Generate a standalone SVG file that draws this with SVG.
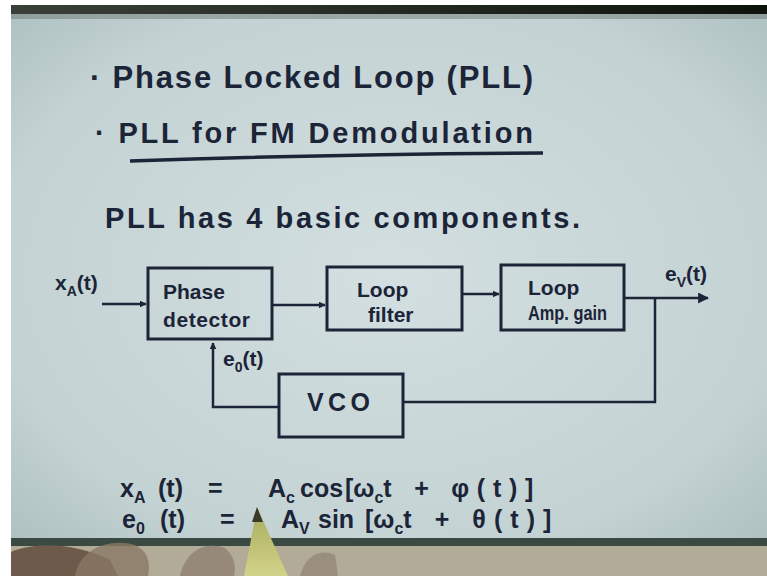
<svg xmlns="http://www.w3.org/2000/svg" width="767" height="576" viewBox="0 0 767 576">
<defs>
<radialGradient id="paper" cx="0.5" cy="0.5" r="0.75">
<stop offset="0" stop-color="#d3dfe0"/>
<stop offset="0.7" stop-color="#c3d2d3"/>
<stop offset="1" stop-color="#a9bcbc"/>
</radialGradient>
<linearGradient id="topband" x1="0" y1="0" x2="1" y2="0">
<stop offset="0" stop-color="#3a4038"/>
<stop offset="0.6" stop-color="#20261f"/>
<stop offset="1" stop-color="#0e120d"/>
</linearGradient>
<linearGradient id="pencil" x1="0" y1="0" x2="0" y2="1">
<stop offset="0" stop-color="#a8aa5a"/>
<stop offset="1" stop-color="#d2d38a"/>
</linearGradient>
<marker id="arr" viewBox="0 0 10 10" refX="9" refY="5" markerWidth="7" markerHeight="7" markerUnits="userSpaceOnUse" orient="auto">
<path d="M0,0 L10,5 L0,10 z" fill="#1c2438"/>
</marker>
<marker id="arrBig" viewBox="0 0 10 10" refX="9" refY="5" markerWidth="11" markerHeight="11" markerUnits="userSpaceOnUse" orient="auto">
<path d="M0,0 L10,5 L0,10 z" fill="#1c2438"/>
</marker>
</defs>
<style>
.ink{fill:#1c2438;font-family:"Liberation Sans","DejaVu Sans",sans-serif;font-weight:bold;}
.h{font-size:31px;}
.h2{font-size:29px;}
.bx{font-size:21px;}
.lb{font-size:21px;}
.eq{font-size:25px;}
.sb{font-size:16px;}
.box{fill:none;stroke:#1c2438;stroke-width:3;}
.wire{fill:none;stroke:#1c2438;stroke-width:2.5;}
</style>
<rect width="767" height="576" fill="#ffffff"/>
<rect x="11" y="5" width="756" height="540" fill="url(#paper)"/>
<rect x="11" y="5" width="756" height="9" fill="url(#topband)"/>
<rect x="11" y="14" width="756" height="5" fill="#6f7c76" opacity="0.5"/>
<rect x="11" y="538" width="756" height="8" fill="#3a4a42"/>
<rect x="11" y="546" width="756" height="30" fill="#b2ab97"/>
<path d="M11,552 C40,540 80,545 110,560 L118,576 L11,576 z" fill="#6e5a4a"/>
<path d="M75,576 C80,548 110,538 135,545 C150,552 150,566 148,576 z" fill="#8a7866" opacity="0.8"/>
<path d="M180,576 C185,552 205,540 225,548 C235,556 236,568 234,576 z" fill="#8b7b6c" opacity="0.7"/>
<path d="M300,576 C305,556 320,548 335,555 L338,576 z" fill="#8b7c6e" opacity="0.6"/>

<g id="title1"><text class="ink h" x="90" y="88" textLength="443">· Phase Locked Loop (PLL)</text></g>
<g id="title2"><text class="ink h2" x="95" y="143" textLength="438">· PLL for FM Demodulation</text>
<path d="M130,161 Q330,154 543,153" fill="none" stroke="#1c2438" stroke-width="3.5"/></g>
<g id="intro"><text class="ink h2" x="105" y="228" textLength="475">PLL has 4 basic components.</text></g>

<g id="phase-detector"><rect class="box" x="148" y="268" width="124" height="71"/>
<text class="ink bx" x="163" y="299">Phase</text><text class="ink bx" x="163" y="327" textLength="87">detector</text></g>
<g id="loop-filter"><rect class="box" x="327" y="267" width="135" height="63"/>
<text class="ink bx" x="357" y="297">Loop</text><text class="ink bx" x="368" y="322">filter</text></g>
<g id="loop-amp"><rect class="box" x="501" y="265" width="123" height="65"/>
<text class="ink bx" x="528" y="295">Loop</text><text class="ink bx" x="528" y="320" textLength="79" lengthAdjust="spacingAndGlyphs">Amp. gain</text></g>
<g id="vco"><rect class="box" x="279" y="374" width="124" height="63"/>
<text class="ink" style="font-size:25px" x="307" y="411" textLength="63">VCO</text></g>

<g id="connectors">
<line class="wire" x1="102" y1="304" x2="146" y2="304" marker-end="url(#arr)"/>
<line class="wire" x1="272" y1="305" x2="325" y2="305" marker-end="url(#arr)"/>
<line class="wire" x1="462" y1="294" x2="499" y2="294" marker-end="url(#arr)"/>
<line class="wire" x1="624" y1="298" x2="708" y2="298" marker-end="url(#arrBig)"/>
<polyline class="wire" points="655,298 655,402 403,402"/>
<polyline class="wire" points="279,407 213,407 213,343" marker-end="url(#arr)"/>
</g>
<g id="labels">
<text class="ink lb" x="55" y="290">x<tspan dy="6" font-size="14">A</tspan><tspan dy="-6">(t)</tspan></text>
<text class="ink lb" x="665" y="281">e<tspan dy="6" font-size="14">V</tspan><tspan dy="-6">(t)</tspan></text>
<text class="ink lb" x="223" y="366">e<tspan dy="6" font-size="14">0</tspan><tspan dy="-6">(t)</tspan></text>
</g>
<g id="equations">
<text class="ink eq" y="497"><tspan x="120">x</tspan><tspan class="sb" dy="6">A</tspan><tspan x="158" dy="-6">(t)</tspan><tspan x="208">=</tspan><tspan x="268">A</tspan><tspan class="sb" dy="6">c</tspan><tspan x="300" dy="-6">cos</tspan><tspan x="345">[ω</tspan><tspan class="sb" dy="6">c</tspan><tspan dy="-6" textLength="150">t + φ(t)]</tspan></text>
<text class="ink eq" y="528"><tspan x="122">e</tspan><tspan class="sb" dy="6">0</tspan><tspan x="160" dy="-6">(t)</tspan><tspan x="220">=</tspan><tspan x="281">A</tspan><tspan class="sb" dy="6">V</tspan><tspan x="318" dy="-6">sin</tspan><tspan x="365">[ω</tspan><tspan class="sb" dy="6">c</tspan><tspan dy="-6" textLength="148">t + θ(t)]</tspan></text>
</g>
<path d="M257,507 L250,545 L244,576 L288,576 L274,545 z" fill="url(#pencil)"/>
<path d="M257,507 L252,522 L263,522 z" fill="#3a3a2a"/>
</svg>
